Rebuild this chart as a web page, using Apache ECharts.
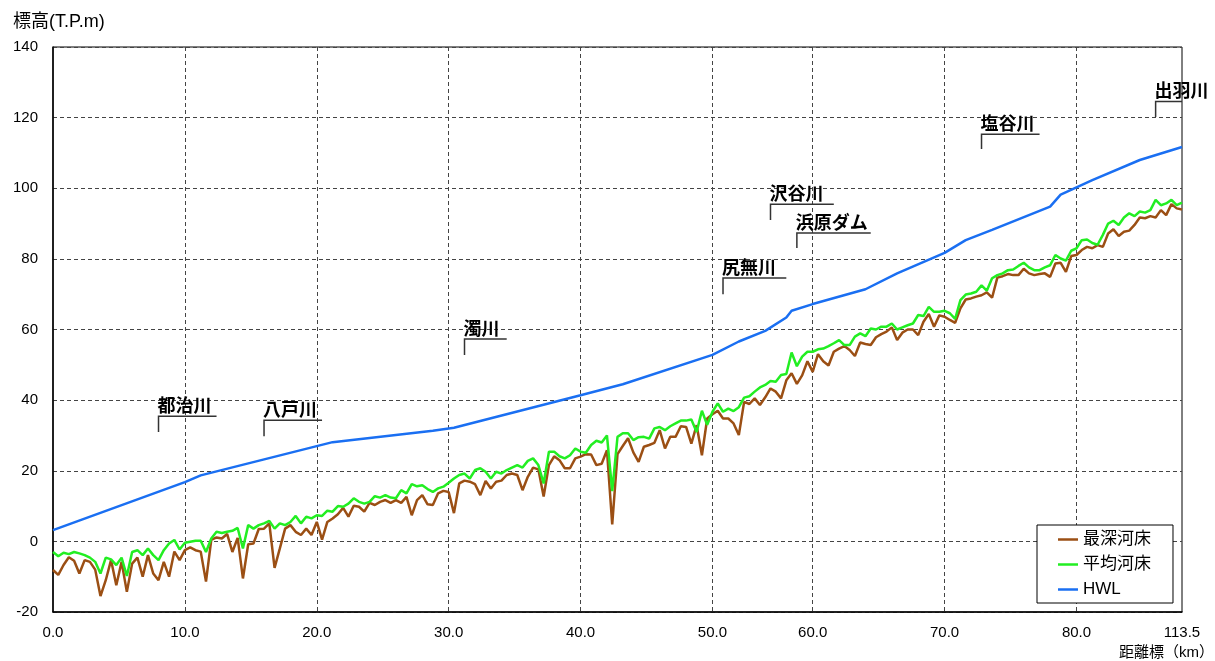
<!DOCTYPE html>
<html>
<head>
<meta charset="utf-8">
<script src="https://cdn.jsdelivr.net/npm/echarts@6/dist/echarts.min.js"></script>
<style>
  html, body { margin: 0; padding: 0; background: #fff; }
  #chart { width: 1215px; height: 661px; }
</style>
</head>
<body>
<div id="chart"></div>
<script>
// 断面位置（距離標の並び順）
const categories = Array.from({ length: 215 }, (_, i) => String(i));
const tickIndex = [0, 25, 50, 75, 100, 125, 144, 169, 194, 214];
const tickLabels = ["0.0", "10.0", "20.0", "30.0", "40.0", "50.0", "60.0", "70.0", "80.0", "113.5"];

// 最深河床
const deepBed = [
  -8.1, -9.5, -6.7, -4.5, -5.5, -9.1, -5.3, -5.8, -8.0, -15.5,
  -11.0, -5.3, -12.4, -5.8, -14.3, -6.3, -4.6, -10.0, -3.9, -9.1,
  -11.0, -5.8, -10.0, -2.9, -5.3, -2.5, -1.7, -2.5, -2.9, -11.4,
  0.4, 1.1, 0.8, 2.1, -3.0, 1.0, -10.5, -0.8, -0.6, 3.5,
  3.6, 5.1, -7.5, -2.0, 3.6, 4.6, 2.7, 1.8, 3.6, 1.8,
  5.5, 0.5, 5.5, 6.5, 7.7, 9.5, 7.0, 10.1, 9.8, 8.4,
  10.9, 10.3, 11.2, 11.7, 10.9, 11.7, 10.9, 12.6, 7.4, 11.7,
  13.1, 10.5, 10.3, 13.6, 14.3, 14.0, 8.0, 16.4, 17.2, 16.9,
  16.2, 13.1, 17.1, 15.0, 16.9, 17.2, 18.8, 19.2, 18.8, 14.5,
  18.3, 20.9, 20.4, 12.7, 21.6, 24.1, 23.0, 20.7, 20.7, 23.5,
  24.0, 24.7, 24.6, 21.6, 22.0, 25.8, 4.8, 24.7, 27.0, 29.2,
  25.2, 22.5, 26.8, 27.3, 27.9, 31.5, 26.3, 29.6, 29.6, 32.6,
  32.4, 27.7, 32.9, 24.4, 34.8, 36.0, 37.0, 34.8, 34.8, 33.4,
  30.1, 39.5, 38.9, 40.5, 38.6, 40.8, 43.3, 42.4, 40.5, 45.6,
  47.6, 44.6, 47.0, 51.0, 48.0, 53.0, 51.0, 49.8, 53.7, 54.6,
  55.3, 54.2, 52.5, 56.3, 55.9, 55.6, 57.8, 58.7, 59.4, 60.6,
  57.0, 59.1, 60.0, 60.0, 58.4, 62.2, 64.4, 60.8, 64.0, 63.6,
  62.7, 61.9, 66.0, 68.5, 68.8, 69.3, 69.7, 70.5, 69.0, 74.7,
  75.1, 75.7, 75.4, 75.4, 77.2, 75.9, 75.4, 75.7, 75.9, 74.9,
  78.7, 78.9, 76.3, 80.8, 81.1, 82.5, 83.4, 83.0, 83.9, 83.4,
  87.2, 88.4, 86.5, 87.7, 88.0, 89.6, 91.7, 91.5, 92.1, 91.7,
  93.8, 92.4, 95.5, 94.3, 94.0
];

// 平均河床
const avgBed = [
  -3.0, -4.2, -3.2, -3.6, -3.0, -3.4, -3.9, -4.6, -5.8, -9.1,
  -4.6, -5.1, -6.7, -4.6, -9.8, -3.0, -2.5, -3.9, -2.0, -3.9,
  -5.3, -2.5, -0.6, 0.4, -2.3, -0.4, -0.1, 0.2, 0.2, -3.0,
  0.8, 2.7, 2.4, 2.7, 3.0, 3.8, -2.0, 4.6, 3.6, 4.6,
  5.1, 5.8, 3.6, 5.1, 4.6, 5.5, 7.2, 5.1, 7.0, 6.5,
  7.4, 7.2, 8.7, 8.4, 10.0, 9.8, 10.7, 12.2, 11.2, 10.7,
  11.2, 12.8, 12.4, 13.1, 12.4, 12.2, 14.5, 13.6, 16.2, 15.6,
  15.9, 14.8, 14.0, 15.0, 15.5, 16.6, 17.8, 18.8, 19.2, 17.8,
  20.2, 20.7, 19.7, 17.8, 19.7, 19.2, 20.2, 20.9, 21.6, 20.9,
  22.8, 23.5, 21.6, 16.4, 25.4, 25.4, 24.1, 23.5, 24.4, 26.3,
  25.4, 25.1, 27.3, 28.5, 28.0, 30.0, 14.2, 29.6, 30.6, 30.6,
  28.7, 29.5, 29.6, 29.1, 32.0, 32.4, 31.5, 32.6, 33.4, 34.2,
  34.2, 34.5, 31.0, 37.0, 33.0, 36.7, 39.1, 36.7, 37.6, 36.9,
  38.0, 40.7, 41.1, 42.4, 43.6, 44.3, 45.4, 45.2, 47.1, 47.4,
  53.5, 49.6, 52.3, 53.7, 53.7, 54.4, 54.6, 55.3, 56.1, 57.0,
  55.6, 55.6, 58.0, 58.9, 58.1, 60.3, 60.0, 60.8, 60.8, 61.7,
  60.0, 60.6, 61.2, 61.7, 64.1, 63.8, 66.4, 65.0, 65.0, 65.3,
  64.6, 63.0, 68.3, 69.9, 70.2, 70.7, 72.5, 71.0, 74.5, 75.4,
  75.9, 76.8, 77.0, 78.0, 78.9, 77.6, 76.8, 76.8, 77.6, 78.2,
  81.1, 80.1, 79.5, 82.3, 83.0, 85.3, 85.5, 84.5, 84.0, 86.8,
  90.0, 90.8, 89.6, 91.7, 92.9, 92.1, 93.4, 93.1, 93.8, 96.7,
  95.2, 95.7, 96.7, 95.2, 95.9
];

// HWL（折れ点）
const hwlIndex = [0, 25, 28, 53, 72, 76, 100, 108, 125, 130, 135, 139, 140, 144, 154, 160, 169, 173, 178, 189, 191, 197, 206, 214];
const hwlValue = [3.2, 16.8, 18.7, 28.1, 31.3, 32.2, 41.4, 44.5, 52.8, 56.6, 59.6, 63.4, 65.3, 67.2, 71.4, 75.9, 81.7, 85.3, 88.2, 94.8, 98.2, 102.3, 108.0, 111.7];

// 支川・施設の注記
const branchNames = ["都治川", "八戸川", "濁川", "尻無川", "沢谷川", "浜原ダム", "塩谷川", "出羽川"];
const branchStart = [20, 40, 78, 127, 136, 141, 176, 209];
const branchEnd = [31, 51, 86, 139, 148, 155, 187, 214];
const branchLevel = [35.4, 34.3, 57.3, 74.6, 95.5, 87.3, 115.3, 124.6];
const branchFoot = [31.0, 29.8, 52.8, 70.0, 91.0, 83.1, 111.1, 120.2];

const FONT = '"Liberation Sans", "Noto Sans CJK JP", sans-serif';
const isTick = (index) => tickIndex.indexOf(index) >= 0;

const chart = echarts.init(document.getElementById("chart"));

const option = {
  animation: false,
  textStyle: { fontFamily: FONT, color: "#000" },
  title: [
    {
      text: "標高(T.P.m)",
      left: 13,
      top: 13,
      padding: 0,
      textStyle: { fontSize: 18, fontWeight: "normal", color: "#000", fontFamily: FONT },
    },
    {
      text: "距離標（km）",
      right: 1,
      bottom: 1,
      padding: 0,
      textStyle: { fontSize: 15, fontWeight: "normal", color: "#000", fontFamily: FONT },
    },
  ],
  legend: {
    data: ["最深河床", "平均河床", "HWL"],
    orient: "vertical",
    left: 1037,
    top: 525,
    padding: [6, 22, 5, 21],
    icon: "rect",
    itemWidth: 20,
    itemHeight: 2.5,
    itemGap: 8,
    backgroundColor: "#fff",
    borderColor: "#000",
    borderWidth: 1,
    textStyle: { fontSize: 17, color: "#000", fontFamily: FONT, lineHeight: 17 },
  },
  grid: {
    left: 53,
    right: 33,
    top: 47,
    bottom: 49,
    show: true,
    borderColor: "#000",
    borderWidth: 1,
  },
  xAxis: {
    type: "category",
    boundaryGap: false,
    data: categories,
    axisLine: { onZero: false, lineStyle: { color: "#000", width: 1.5 } },
    axisTick: { show: false },
    axisLabel: {
      interval: (index) => isTick(index),
      formatter: (value, index) => tickLabels[tickIndex.indexOf(index)],
      fontSize: 15,
      color: "#000",
      margin: 13,
    },
    splitLine: {
      show: true,
      interval: (index) => isTick(index) && index !== 0 && index !== 214,
      lineStyle: { color: "#444", type: [4, 3], width: 1 },
    },
  },
  yAxis: {
    type: "value",
    min: -20,
    max: 140,
    interval: 20,
    axisLine: { show: true, lineStyle: { color: "#000", width: 1.5 } },
    axisTick: { show: false },
    axisLabel: { fontSize: 15, color: "#000", margin: 15 },
    splitLine: { lineStyle: { color: "#444", type: [4, 3], width: 1 } },
  },
  series: [
    {
      name: "最深河床",
      type: "line",
      data: deepBed,
      symbol: "none",
      lineStyle: { color: "#9b4f14", width: 2.5 },
      itemStyle: { color: "#9b4f14" },
    },
    {
      name: "平均河床",
      type: "line",
      data: avgBed,
      symbol: "none",
      lineStyle: { color: "#22ee22", width: 2.5 },
      itemStyle: { color: "#22ee22" },
    },
    {
      name: "HWL",
      type: "line",
      data: hwlIndex.map((x, k) => [x, hwlValue[k]]),
      symbol: "none",
      lineStyle: { color: "#1a6ff2", width: 2.5 },
      itemStyle: { color: "#1a6ff2" },
    },
    {
      type: "custom",
      silent: true,
      z: 10,
      clip: false,
      encode: { x: [0, 1], y: [2, 3] },
      data: branchNames.map((n, k) => [branchStart[k], branchEnd[k], branchLevel[k], branchFoot[k]]),
      renderItem: (params, api) => {
        const a = api.coord([api.value(0), api.value(2)]);
        const b = api.coord([api.value(1), api.value(2)]);
        const c = api.coord([api.value(0), api.value(3)]);
        return {
          type: "group",
          children: [
            {
              type: "polyline",
              shape: { points: [c, a, b] },
              style: { stroke: "#333", lineWidth: 1.5, fill: null },
            },
            {
              type: "text",
              x: a[0] - 1,
              y: a[1] - 2,
              style: {
                text: branchNames[params.dataIndex],
                fill: "#000",
                font: 'bold 18px "Noto Sans CJK JP", sans-serif',
                align: "left",
                verticalAlign: "bottom",
              },
            },
          ],
        };
      },
    },
  ],
};

chart.setOption(option);
</script>
</body>
</html>
